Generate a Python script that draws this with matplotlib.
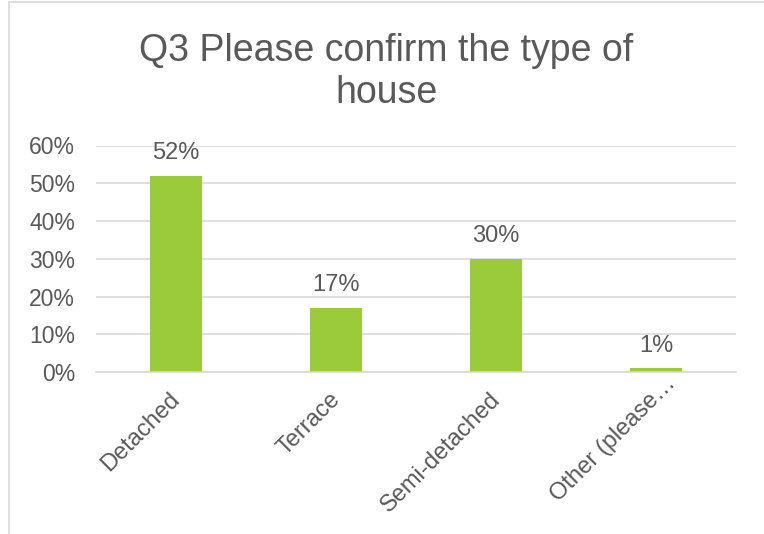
import matplotlib
matplotlib.use("Agg")
import matplotlib.pyplot as plt
from matplotlib.patches import Rectangle
from matplotlib.transforms import ScaledTranslation

categories = ["Detached", "Terrace", "Semi-detached", "Other (please…"]
values = [0.52, 0.17, 0.30, 0.01]
value_labels = ["52%", "17%", "30%", "1%"]
y_ticks = [0.0, 0.1, 0.2, 0.3, 0.4, 0.5, 0.6]
y_tick_labels = ["0%", "10%", "20%", "30%", "40%", "50%", "60%"]
title = "Q3 Please confirm the type of\nhouse"

W, H = 764, 534
TEXT = "#595959"
GRID = "#D9D9D9"
BAR = "#9BCB3B"

plt.rcParams["font.family"] = ["Liberation Sans", "DejaVu Sans"]

fig = plt.figure(figsize=(W / 100, H / 100), dpi=100)
fig.patch.set_facecolor("white")

# chart frame
fig.add_artist(Rectangle((8.5 / W, -0.1), 1.2, (H - 2.5) / H + 0.1,
                         transform=fig.transFigure, fill=False,
                         edgecolor=GRID, linewidth=1.2))

ax = fig.add_axes([96 / W, (H - 372) / H, 640 / W, (372 - 145.5) / H])
x = list(range(len(categories)))
ax.bar(x, values, width=0.32, color=BAR, zorder=3)
ax.set_xlim(-0.5, len(categories) - 0.5)
ax.set_ylim(0, 0.6)
ax.set_yticks(y_ticks)
ax.set_yticklabels(y_tick_labels, fontsize=16.5, color=TEXT)
ax.set_xticks(x)
ax.set_xticklabels(categories, fontsize=17, color=TEXT, rotation=45,
                   ha="right", va="top", rotation_mode="anchor")
ax.tick_params(axis="both", length=0)
ax.tick_params(axis="y", pad=15)
ax.tick_params(axis="x", pad=8)
xlabels = ax.get_xticklabels()
for i, lab in enumerate(xlabels):
    dx, dy = -7, -5
    if i == len(xlabels) - 1:
        # truncated label sits further along its diagonal
        dx, dy = dx + 16, dy + 16
    lab.set_transform(lab.get_transform()
                      + ScaledTranslation(dx / 100, dy / 100, fig.dpi_scale_trans))
ax.grid(axis="y", color=GRID, linewidth=1.2, zorder=0)
for s in ["left", "right", "top"]:
    ax.spines[s].set_visible(False)
ax.spines["bottom"].set_color(GRID)
ax.spines["bottom"].set_linewidth(1.2)
ax.spines["bottom"].set_zorder(4)

for xi, v, lab in zip(x, values, value_labels):
    ax.annotate(lab, (xi, v), xytext=(0, 12), textcoords="offset points",
                ha="center", va="baseline", fontsize=17, color=TEXT)

fig.text(386.5 / W, 1 - 103 / H, title, ha="center", va="baseline",
         fontsize=27, color=TEXT, linespacing=1.2)

fig.savefig("out.png", dpi=100)
